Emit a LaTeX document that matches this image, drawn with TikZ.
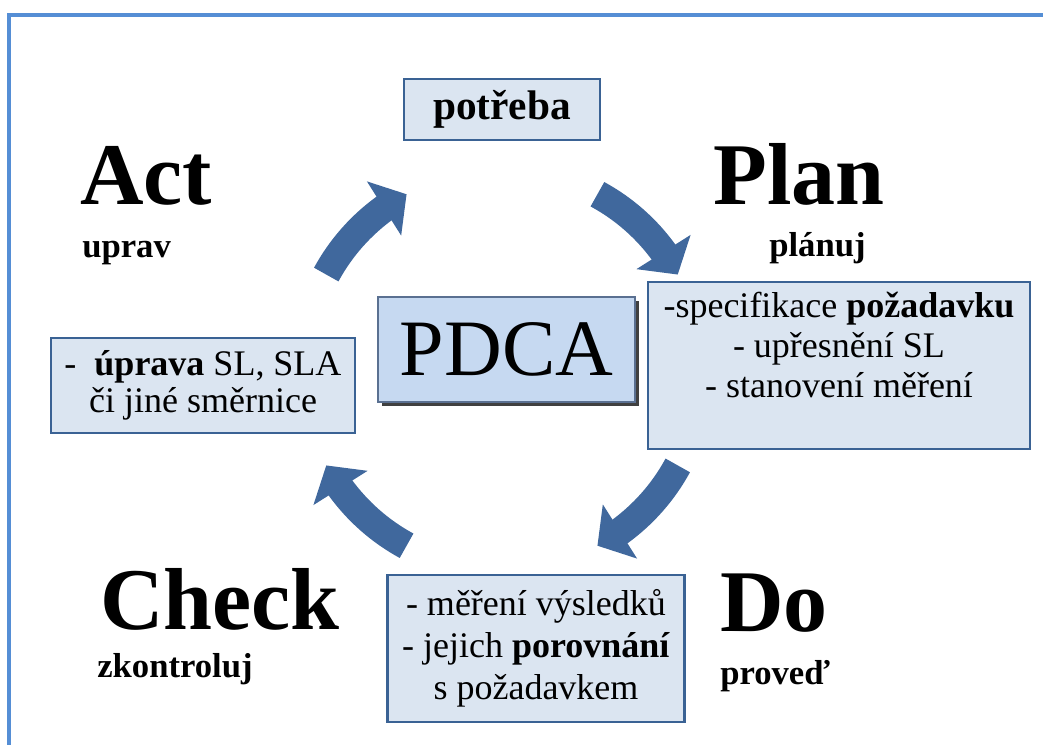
\documentclass[tikz,border=0pt]{standalone}
\usepackage{fontspec}
\setmainfont{Liberation Serif}
\usetikzlibrary{arrows.meta,bending,shadows}

\definecolor{ramblue}{RGB}{85,142,213}
\definecolor{sipkablue}{RGB}{64,104,157}
\definecolor{boxfill}{RGB}{219,229,241}
\definecolor{boxline}{RGB}{58,98,148}
\definecolor{pdcafill}{RGB}{198,217,241}
\definecolor{pdcaline}{RGB}{90,112,145}

\begin{document}
\begin{tikzpicture}[x=0.75pt,y=0.75pt,
  velky/.style={anchor=base west,inner sep=0pt,font=\fontsize{66}{70}\selectfont\bfseries},
  maly/.style={anchor=base west,inner sep=0pt,font=\fontsize{26}{30}\selectfont\bfseries},
  krok/.style={draw=boxline,line width=2.2pt,fill=boxfill,align=center,inner sep=0pt},
  sipka/.style={draw=sipkablue,line width=21pt,-{Triangle[length=20pt,width=47pt]}}]
\useasboundingbox (0,0) rectangle (1043,745);

% ramecek
\draw[ramblue,line width=3pt] (9,0) -- (9,730) -- (1043,730);

% sipky kolem stredu
\coordinate (stred) at (502,375);
\draw[sipka] ([shift={(151.5:200)}]stred) arc[start angle=151.5,end angle=118.5,radius=200];
\draw[sipka] ([shift={(61.5:200)}]stred) arc[start angle=61.5,end angle=28.5,radius=200];
\draw[sipka] ([shift={(-28.5:200)}]stred) arc[start angle=-28.5,end angle=-61.5,radius=200];
\draw[sipka] ([shift={(-118.5:200)}]stred) arc[start angle=-118.5,end angle=-151.5,radius=200];

% PDCA uprostred
\node[draw=pdcaline,line width=0.8pt,fill=pdcafill,minimum width=192.75pt,minimum height=78.75pt,
  drop shadow={fill=black,opacity=0.75,shadow xshift=3pt,shadow yshift=-3pt},
  font=\fontsize{60}{64}\selectfont] (pdca) at (506.5,395.5) {PDCA};

% boxy
\node[krok,minimum width=147pt,minimum height=45.75pt,font=\fontsize{31}{34}\selectfont\bfseries] (potreba) at (502,635.5) {potřeba};
\node[krok,minimum width=286.5pt,minimum height=125.25pt] (planbox) at (839,379.5) {};
\node[anchor=north,align=center,inner sep=0pt,font=\fontsize{27}{30}\selectfont] (plantext) at (839,453)
  {-specifikace \textbf{požadavku}\\- upřesnění SL\\- stanovení měření};
\node[krok,minimum width=228pt,minimum height=71.25pt,font=\fontsize{27}{27.75}\selectfont] (actbox) at (203,359.5)
  {-\ \ \textbf{úprava} SL, SLA\\či jiné směrnice};
\node[krok,minimum width=222.4pt,minimum height=110.25pt,font=\fontsize{27}{31.5}\selectfont] (dobox) at (536,96.5)
  {- měření výsledků\\- jejich \textbf{porovnání}\\s požadavkem};

% nazvy kroku
\node[velky] (act) at (80,540) {Act};
\node[maly] (uprav) at (82,487) {uprav};
\node[velky] (plan) at (713,540) {Plan};
\node[maly] (planuj) at (769,488) {plánuj};
\node[velky] (check) at (100,115) {Check};
\node[maly] (zkontroluj) at (97,67) {zkontroluj};
\node[velky] (do) at (720,113) {Do};
\node[maly] (proved) at (720,60) {proveď};

\end{tikzpicture}
\end{document}
